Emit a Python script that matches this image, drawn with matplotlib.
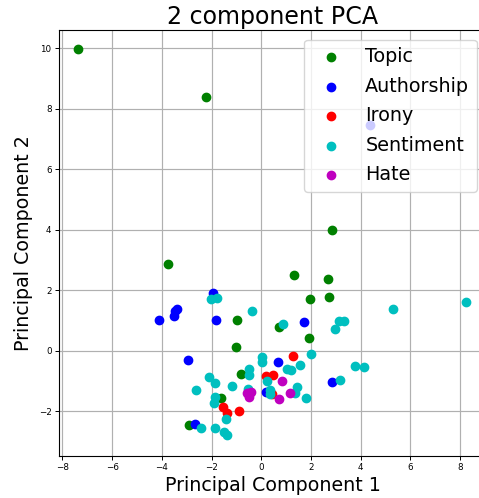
import matplotlib
matplotlib.use("Agg")
import matplotlib.pyplot as plt

categories = ["Topic", "Authorship", "Irony", "Sentiment", "Hate"]
colors = ["g", "b", "r", "c", "m"]

topic_x = [-7.39, -2.24, 2.83, -3.77, 1.30, 2.67, 1.95, 2.72, -0.98, 0.72, 1.92, -1.03, -0.80, -1.63, -2.92]
topic_y = [9.97, 8.38, 3.98, 2.88, 2.52, 2.38, 1.72, 1.78, 1.03, 0.78, 0.44, 0.12, -0.75, -1.55, -2.44]

auth_x = [4.37, -1.93, -3.38, -3.49, -3.53, -4.10, -1.81, 1.72, -2.96, 0.67, 2.85, 0.17, -2.68]
auth_y = [7.45, 1.92, 1.38, 1.32, 1.16, 1.01, 1.01, 0.94, -0.29, -0.35, -1.02, -1.36, -2.41]

irony_x = [1.28, 0.20, 0.48, 0.44, -1.54, -1.37, -0.90]
irony_y = [-0.18, -0.84, -0.80, -1.42, -1.84, -2.06, -1.98]

sent_x = [-2.04, -1.79, -0.39, 0.89, 3.11, 3.32, 2.95, 8.25, 5.31, 0.03, 0.01, 2.00,
          -0.49, -0.48, 1.02, 1.20, 1.56, 3.78, 4.13, 0.23, -2.09, -1.85, -1.18, -2.63,
          -0.55, 1.42, 1.37, 3.18, 0.33, 0.35, 1.81, -1.86, -1.89, -1.42, -2.44, -1.86,
          -1.50, -1.37]
sent_y = [1.72, 1.74, 1.33, 0.89, 1.00, 0.99, 0.71, 1.61, 1.38, -0.21, -0.36, -0.11,
          -0.60, -0.81, -0.60, -0.63, -0.45, -0.50, -0.52, -0.99, -0.85, -1.07, -1.16, -1.28,
          -1.27, -1.20, -1.40, -0.97, -1.30, -1.42, -1.55, -1.51, -1.73, -2.24, -2.53, -2.55,
          -2.68, -2.76]

hate_x = [-0.56, -0.41, -0.49, 0.85, 1.14, 0.70]
hate_y = [-1.40, -1.34, -1.51, -0.99, -1.39, -1.59]

xs = [topic_x, auth_x, irony_x, sent_x, hate_x]
ys = [topic_y, auth_y, irony_y, sent_y, hate_y]

W, H = 479, 498
fig = plt.figure(figsize=(W / 100, H / 100), dpi=100)
ax = fig.add_axes([58.5 / W, (H - 456) / H, (486.5 - 58.5) / W, (456 - 30) / H])

for cat, col, x, y in zip(categories, colors, xs, ys):
    ax.scatter(x, y, c=col, s=36, label=cat)

ax.set_xlim(-8.16, 9.06)
ax.set_ylim(-3.47, 10.6)
ax.set_xticks([-8, -6, -4, -2, 0, 2, 4, 6, 8])
ax.set_yticks([-2, 0, 2, 4, 6, 8, 10])
ax.tick_params(labelsize=6.3, length=3, width=0.7, pad=2)
ax.grid(True, color="#b0b0b0", linewidth=0.85)
ax.set_axisbelow(True)
for s in ax.spines.values():
    s.set_linewidth(0.8)

ax.set_xlabel("Principal Component 1", fontsize=13.7, labelpad=3)
ax.set_ylabel("Principal Component 2", fontsize=13.7, labelpad=4)
ax.set_title("2 component PCA", fontsize=17.1, pad=4)
leg = ax.legend(loc="upper right", fontsize=13.8, framealpha=0.8, labelspacing=0.55)

fig.savefig("out.png", dpi=100)
